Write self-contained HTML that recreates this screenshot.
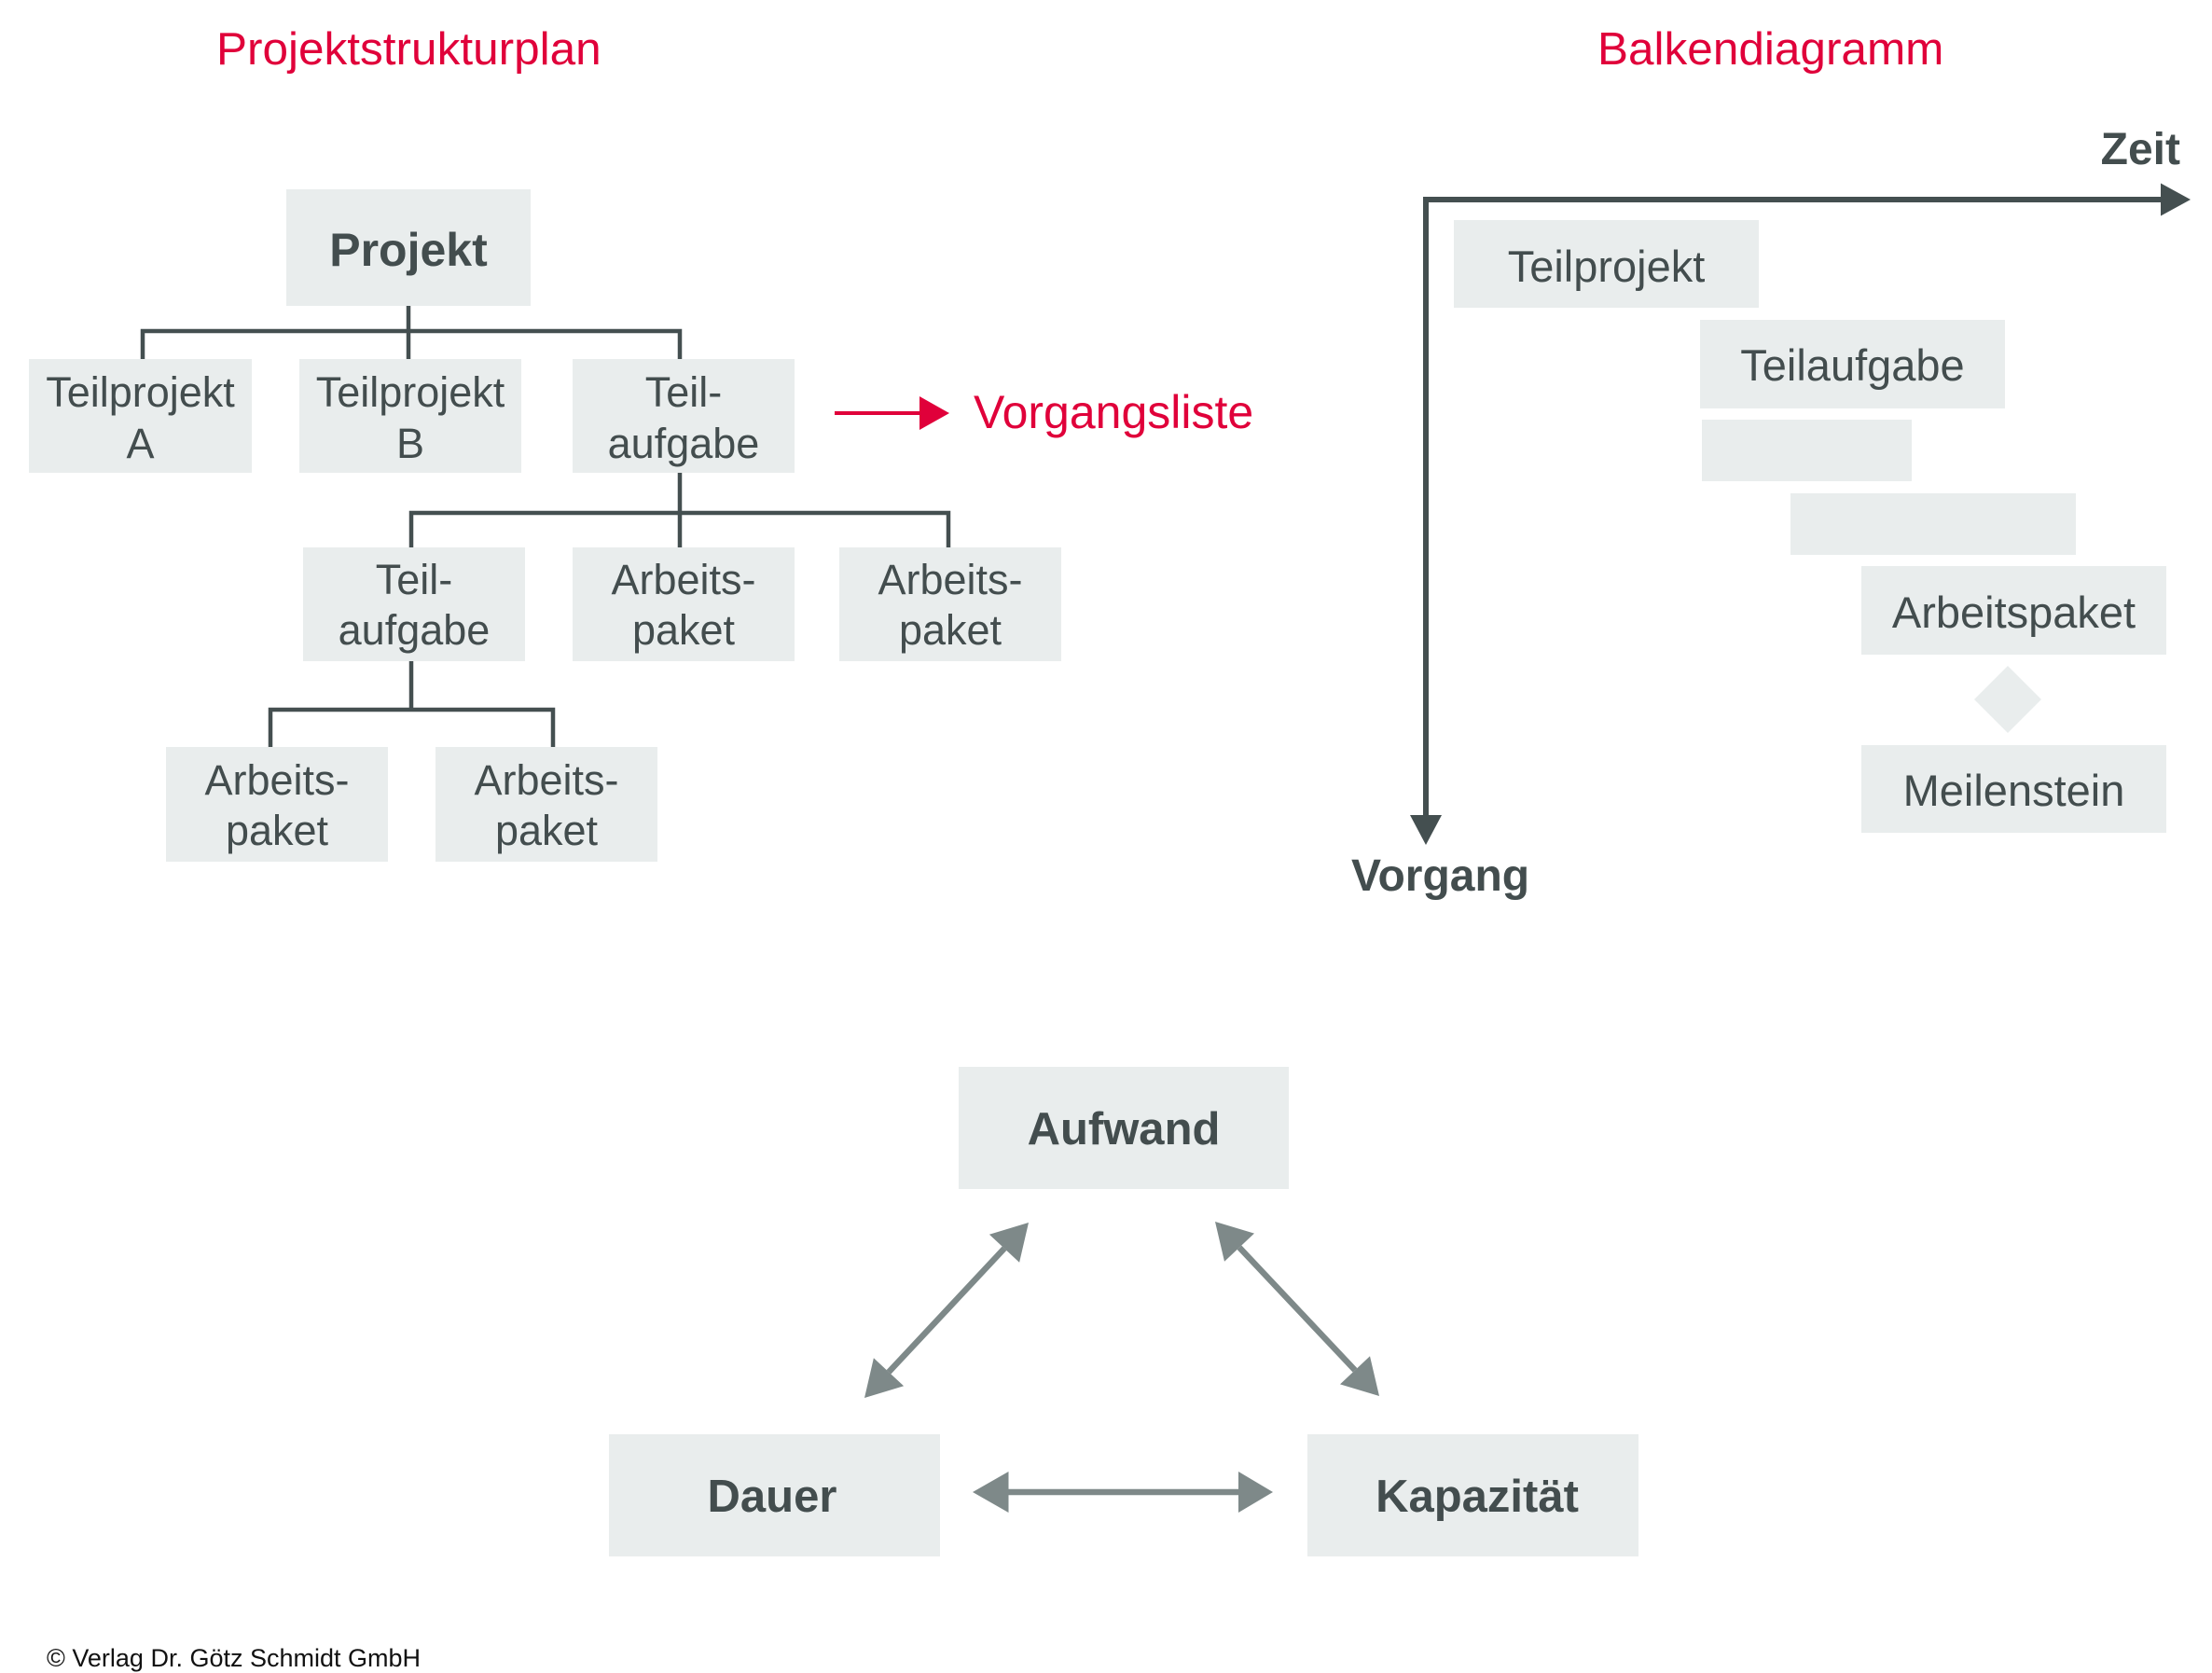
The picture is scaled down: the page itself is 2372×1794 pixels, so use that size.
<!DOCTYPE html>
<html>
<head>
<meta charset="utf-8">
<style>
  html,body{margin:0;padding:0;background:#ffffff;}
  svg{display:block;}
  text{font-family:"Liberation Sans",Arial,sans-serif;}
</style>
</head>
<body>
<svg width="2372" height="1794" viewBox="0 0 2372 1794" xmlns="http://www.w3.org/2000/svg">
  <rect x="0" y="0" width="2372" height="1794" fill="#ffffff"/>

  <!-- Titles -->
  <text x="232" y="69" font-size="49.5" fill="#e0003a">Projektstrukturplan</text>
  <text x="1713" y="69" font-size="49.5" fill="#e0003a">Balkendiagramm</text>

  <!-- ===== Projektstrukturplan ===== -->
  <g fill="#e9eded">
    <rect x="307" y="203" width="262" height="125"/>
    <rect x="31" y="385" width="239" height="122"/>
    <rect x="321" y="385" width="238" height="122"/>
    <rect x="614" y="385" width="238" height="122"/>
    <rect x="325" y="587" width="238" height="122"/>
    <rect x="614" y="587" width="238" height="122"/>
    <rect x="900" y="587" width="238" height="122"/>
    <rect x="178" y="801" width="238" height="123"/>
    <rect x="467" y="801" width="238" height="123"/>
  </g>

  <g stroke="#444f50" stroke-width="4.5" fill="none" stroke-linecap="butt">
    <line x1="438" y1="328" x2="438" y2="385"/>
    <polyline points="153,385 153,355 729,355 729,385"/>
    <line x1="729" y1="507" x2="729" y2="587"/>
    <polyline points="441,587 441,550 1017,550 1017,587"/>
    <line x1="441" y1="709" x2="441" y2="761"/>
    <polyline points="290,801 290,761 593,761 593,801"/>
  </g>

  <g fill="#434d4e" font-size="45" text-anchor="middle">
    <text x="438" y="285" font-size="50" font-weight="bold">Projekt</text>

    <text x="150.5" y="436">Teilprojekt</text>
    <text x="150.5" y="491">A</text>
    <text x="440" y="436">Teilprojekt</text>
    <text x="440" y="491">B</text>
    <text x="733" y="436">Teil-</text>
    <text x="733" y="491">aufgabe</text>

    <text x="444" y="637">Teil-</text>
    <text x="444" y="691">aufgabe</text>
    <text x="733" y="637">Arbeits-</text>
    <text x="733" y="691">paket</text>
    <text x="1019" y="637">Arbeits-</text>
    <text x="1019" y="691">paket</text>

    <text x="297" y="852">Arbeits-</text>
    <text x="297" y="906">paket</text>
    <text x="586" y="852">Arbeits-</text>
    <text x="586" y="906">paket</text>
  </g>

  <!-- Red arrow to Vorgangsliste -->
  <line x1="895" y1="443" x2="990" y2="443" stroke="#e0003a" stroke-width="4"/>
  <polygon points="986,425 1018,443 986,461" fill="#e0003a"/>
  <text x="1044" y="459" font-size="50" fill="#e0003a">Vorgangsliste</text>

  <!-- ===== Balkendiagramm ===== -->
  <g fill="#e9eded">
    <rect x="1559" y="236" width="327" height="94"/>
    <rect x="1823" y="343" width="327" height="95"/>
    <rect x="1825" y="450" width="225" height="66"/>
    <rect x="1920" y="529" width="306" height="66"/>
    <rect x="1996" y="607" width="327" height="95"/>
    <polygon points="2153,714 2189,750 2153,786 2117,750"/>
    <rect x="1996" y="799" width="327" height="94"/>
  </g>

  <path d="M1529,876 L1529,214 L2320,214" stroke="#444f50" stroke-width="6" fill="none"/>
  <polygon points="2317,196.5 2349,214 2317,231.5" fill="#444f50"/>
  <polygon points="1512,874 1546,874 1529,906" fill="#444f50"/>

  <text x="2338" y="176" font-size="48" font-weight="bold" fill="#434d4e" text-anchor="end">Zeit</text>
  <text x="1449" y="955" font-size="48" font-weight="bold" fill="#434d4e">Vorgang</text>

  <g fill="#434d4e" font-size="47" text-anchor="middle">
    <text x="1722.5" y="302">Teilprojekt</text>
    <text x="1986.5" y="408">Teilaufgabe</text>
    <text x="2159.5" y="673">Arbeitspaket</text>
    <text x="2159.5" y="864">Meilenstein</text>
  </g>

  <!-- ===== Magisches Dreieck ===== -->
  <g fill="#e9eded">
    <rect x="1028" y="1144" width="354" height="131"/>
    <rect x="653" y="1538" width="355" height="131"/>
    <rect x="1402" y="1538" width="355" height="131"/>
  </g>
  <g fill="#434d4e" font-size="49" font-weight="bold" text-anchor="middle">
    <text x="1205" y="1227">Aufwand</text>
    <text x="828" y="1621">Dauer</text>
    <text x="1584" y="1621">Kapazität</text>
  </g>

  <g stroke="#7e8989" stroke-width="6.5" fill="none">
    <line x1="1077" y1="1338.7" x2="953" y2="1471.3"/>
    <line x1="1329" y1="1337.7" x2="1453" y2="1469.3"/>
    <line x1="1081" y1="1600" x2="1328" y2="1600"/>
  </g>
  <g fill="#7e8989">
    <polygon points="1103,1311 1093.1,1353.7 1060.9,1323.7"/>
    <polygon points="927,1499 969.1,1486.3 936.9,1456.3"/>
    <polygon points="1303,1310 1313,1352.8 1345,1322.6"/>
    <polygon points="1479,1497 1437,1484.4 1469,1454.2"/>
    <polygon points="1043,1600 1081.5,1578 1081.5,1622"/>
    <polygon points="1365,1600 1328,1578 1328,1622"/>
  </g>

  <!-- Copyright -->
  <text x="50" y="1787" font-size="27" fill="#111111">© Verlag Dr. Götz Schmidt GmbH</text>
</svg>
</body>
</html>
